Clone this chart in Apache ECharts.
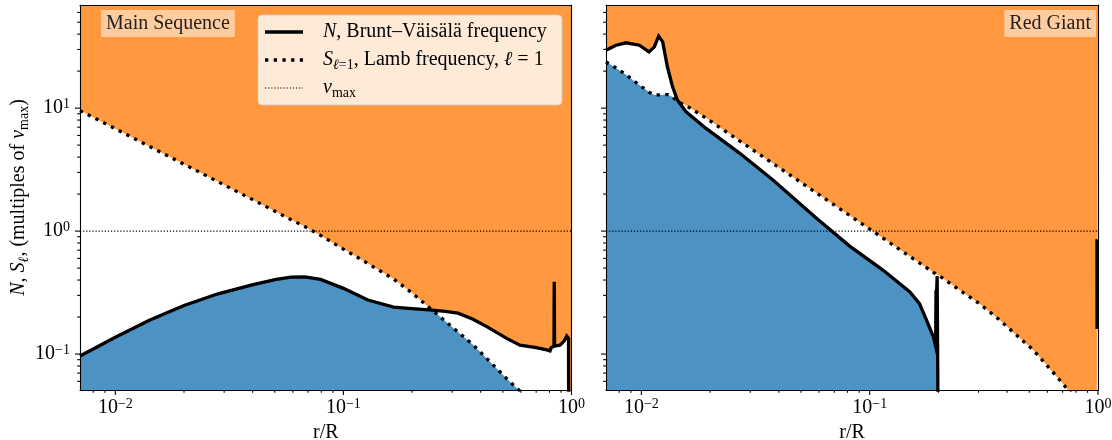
<!DOCTYPE html>
<html>
<head>
<meta charset="utf-8">
<script src="https://cdn.jsdelivr.net/npm/echarts@6/dist/echarts.min.js"></script>
<style>
  html, body { margin: 0; padding: 0; background: #fff; }
  #chart { width: 1112px; height: 440px; }
</style>
</head>
<body>
<div id="chart"></div>
<script>
// ---- Main-sequence model: radius (r/R), Brunt–Väisälä N and Lamb S(l=1), in units of nu_max
const msRadius = [0.007, 0.01, 0.0141, 0.02, 0.0282, 0.0398, 0.0501, 0.0589, 0.0676, 0.0794,
  0.1, 0.128, 0.166, 0.2, 0.245, 0.28, 0.318, 0.37, 0.425, 0.52,
  0.594, 0.70, 0.78, 0.805, 0.815, 0.838, 0.840, 0.843, 0.89, 0.93,
  0.953, 0.97, 0.976, 1.0];
const msN = [0.0964, 0.137, 0.188, 0.248, 0.309, 0.365, 0.403, 0.422, 0.425, 0.405,
  0.342, 0.275, 0.241, 0.234, 0.228, 0.222, 0.215, 0.192, 0.167, 0.134,
  0.118, 0.113, 0.108, 0.106, 0.113, 0.116, 0.387, 0.116, 0.118, 0.128,
  0.14, 0.134, 0.001, null];
const msS = [9.55, 6.79, 4.88, 3.50, 2.52, 1.81, 1.45, 1.24, 1.09, 0.922,
  0.714, 0.545, 0.408, 0.314, 0.228, 0.185, 0.151, 0.119, 0.092, 0.063,
  0.050, 0.036, 0.028, 0.026, 0.025, 0.023, 0.023, 0.0228, 0.019, 0.017,
  0.0155, 0.0148, 0.0145, 0.0135];

// ---- Red-giant model
const rgRadius = [0.007, 0.00774, 0.00857, 0.0098, 0.0108, 0.0114, 0.0119, 0.0124, 0.0130, 0.0137,
  0.0144, 0.0157, 0.0192, 0.0269, 0.0377, 0.0583, 0.0817, 0.1143, 0.1496, 0.165,
  0.1774, 0.19, 0.1945, 0.1952, 0.1958, 0.1966, 0.1975, 0.2012, 0.2015, 0.25,
  0.3, 0.37, 0.45, 0.52, 0.6, 0.66, 0.73, 0.8, 0.9, 0.989,
  0.9895, 0.9905, 0.991, 1.0];
const rgN = [29.6, 32.5, 34, 32.5, 28.7, 31.5, 38.5, 34.6, 21.7, 14.9,
  11.6, 9.33, 6.84, 4.31, 2.60, 1.28, 0.755, 0.482, 0.321, 0.258,
  0.189, 0.138, 0.115, 0.33, 0.118, 0.34, 0.43, 0.43, 0.001, null,
  null, null, null, null, null, null, null, null, null, null,
  0.86, 0.16, null, null];
const rgS = [23.8, 21.2, 18.7, 15.4, 13.5, 12.8, 12.8, 12.85, 12.9, 12.3,
  11.25, 10.5, 8.3, 5.42, 3.55, 2.05, 1.34, 0.877, 0.624, 0.552,
  0.504, 0.461, 0.448, 0.447, 0.446, 0.444, 0.442, 0.435, 0.434, 0.327,
  0.26, 0.19, 0.137, 0.108, 0.08, 0.0655, 0.0525, 0.043, 0.032, 0.0232,
  0.0231, 0.0229, 0.0228, 0.022];

// nu_max reference level
const nuMaxLevel = 1;

// Axis ranges and tick positions
const X_MIN = 0.007, X_MAX = 1;
const Y_MIN = 0.051, Y_MAX = 69;
const xMajorTicks = [0.01, 0.1, 1];
const yMajorTicks = [0.1, 1, 10];
const mantissas = [2, 3, 4, 5, 6, 7, 8, 9];
const decades = [0.001, 0.01, 0.1, 1, 10];

const SERIF = '"Liberation Serif", "DejaVu Serif", serif';
const FS = 20;
const ORANGE = '#ff983e';
const BLUE = '#4c92c3';
const FLOOR = 1e-3; // stands in for N far below the plotted range

function minorTicks(lo, hi) {
  const out = [];
  decades.forEach(d => mantissas.forEach(m => {
    const v = m * d;
    if (v > lo && v < hi) out.push(v);
  }));
  return out;
}
const xMinorTicks = minorTicks(X_MIN, X_MAX);
const yMinorTicks = minorTicks(Y_MIN, Y_MAX);

function curve(r, v) {
  return r.map((x, i) => [x, v[i] == null ? '-' : v[i]]);
}
function envelope(r, n, s, pick) {
  return r.map((x, i) => [x, pick(n[i] == null ? FLOOR : n[i], s[i])]);
}

function powLabel(v) {
  const e = Math.log10(v), k = Math.round(e);
  if (Math.abs(e - k) > 1e-6) return '';
  return '{b|10}{s|' + (k < 0 ? '\u2212' + (-k) : String(k)) + '}';
}
const tickRich = {
  b: { fontFamily: SERIF, fontSize: FS, color: '#000', lineHeight: 22 },
  s: { fontFamily: SERIF, fontSize: 14, color: '#000', lineHeight: 13, verticalAlign: 'top' }
};
const mathRich = {
  r: { fontFamily: SERIF, fontSize: FS, color: '#000', lineHeight: 24 },
  i: { fontFamily: SERIF, fontStyle: 'italic', fontSize: FS, color: '#000', lineHeight: 24 },
  sub: { fontFamily: SERIF, fontSize: 14, color: '#000', lineHeight: 14, verticalAlign: 'bottom' },
  subi: { fontFamily: SERIF, fontStyle: 'italic', fontSize: 14, color: '#000', lineHeight: 14, verticalAlign: 'bottom' }
};

function xAxis(grid, pos, labels) {
  return {
    type: 'log', logBase: 10, gridIndex: grid, position: pos,
    min: X_MIN, max: X_MAX, z: 10,
    axisLine: { show: true, onZero: false, lineStyle: { color: '#000', width: 1.1 } },
    axisTick: { show: false }, minorTick: { show: false }, splitLine: { show: false },
    axisLabel: { show: labels, formatter: powLabel, rich: tickRich, margin: 7, hideOverlap: false },
    name: labels ? 'r/R' : '', nameLocation: 'middle', nameGap: 30,
    nameTextStyle: { fontFamily: SERIF, fontSize: FS, color: '#000' }
  };
}
function yAxis(grid, pos, labels, name) {
  return {
    type: 'log', logBase: 10, gridIndex: grid, position: pos,
    min: Y_MIN, max: Y_MAX, z: 10,
    axisLine: { show: true, onZero: false, lineStyle: { color: '#000', width: 1.1 } },
    axisTick: { show: false }, minorTick: { show: false }, splitLine: { show: false },
    axisLabel: { show: labels, formatter: powLabel, rich: tickRich, margin: 10, hideOverlap: false },
    name: name || '', nameLocation: 'middle', nameGap: 44, nameRotate: 90,
    nameTextStyle: { rich: mathRich }
  };
}

function tickSeries(xi, yi, values, isX, len) {
  return {
    type: 'custom', xAxisIndex: xi, yAxisIndex: yi, silent: true, z: 20, clip: false,
    data: values.map(v => isX ? [v, Y_MIN] : [X_MIN, v]),
    renderItem: (params, api) => {
      const p = api.coord([api.value(0), api.value(1)]);
      return {
        type: 'line',
        shape: isX ? { x1: p[0], y1: p[1], x2: p[0], y2: p[1] + len }
                   : { x1: p[0], y1: p[1], x2: p[0] - len, y2: p[1] },
        style: { stroke: '#000', lineWidth: 1.1 }
      };
    }
  };
}

function panelSeries(idx, r, n, s) {
  const base = { xAxisIndex: idx, yAxisIndex: idx, showSymbol: false, symbol: 'none', silent: true, animation: false };
  return [
    Object.assign({}, base, {
      type: 'line', z: 1, data: envelope(r, n, s, Math.max),
      lineStyle: { width: 0 }, areaStyle: { color: ORANGE, opacity: 1, origin: 'end' }
    }),
    Object.assign({}, base, {
      type: 'line', z: 1, data: envelope(r, n, s, Math.min),
      lineStyle: { width: 0 }, areaStyle: { color: BLUE, opacity: 1, origin: 'start' }
    }),
    Object.assign({}, base, {
      type: 'line', z: 3, data: [[X_MIN, nuMaxLevel], [X_MAX, nuMaxLevel]],
      lineStyle: { color: '#000', width: 1.2, type: [1.2, 1.9] }
    }),
    Object.assign({}, base, {
      type: 'line', z: 4, data: curve(r, s),
      lineStyle: { color: '#000', width: 3.3, type: [3.3, 5.4] }
    }),
    Object.assign({}, base, {
      type: 'line', z: 5, data: curve(r, n), connectNulls: false,
      lineStyle: { color: '#000', width: 3.3, join: 'miter' }
    }),
    tickSeries(idx, idx, xMajorTicks, true, 5),
    tickSeries(idx, idx, xMinorTicks, true, 2.8),
    tickSeries(idx, idx, yMajorTicks, false, 5),
    tickSeries(idx, idx, yMinorTicks, false, 2.8)
  ];
}

const chart = echarts.init(document.getElementById('chart'), null, { renderer: 'canvas' });

const legendRows = [
  { y: 32, dash: null, width: 3.3, text: '{i|N}{r|, Brunt\u2013V\u00e4is\u00e4l\u00e4 frequency}' },
  { y: 60, dash: [3.3, 5.4], width: 3.3, text: '{i|S}{subi|\u2113}{sub|=1}{r|, Lamb frequency, }{i|\u2113}{r| = 1}' },
  { y: 88, dash: [1.2, 1.9], width: 1.2, text: '{i|\u03bd}{sub|max}' }
];

const graphic = [
  {
    type: 'text', x: 101, y: 10, z: 100,
    style: { text: 'Main Sequence', font: FS + 'px ' + SERIF, fill: '#222', lineHeight: 19,
      backgroundColor: 'rgba(255,255,255,0.5)', padding: [4, 5, 4, 5] }
  },
  {
    type: 'text', x: 1096, y: 10, z: 100,
    style: { text: 'Red Giant', font: FS + 'px ' + SERIF, fill: '#222', lineHeight: 19, align: 'right',
      backgroundColor: 'rgba(255,255,255,0.5)', padding: [4, 5, 4, 5] }
  },
  {
    type: 'rect', z: 100,
    shape: { x: 258, y: 15, width: 304, height: 90, r: 4 },
    style: { fill: 'rgba(255,255,255,0.8)', stroke: 'rgba(204,204,204,0.8)', lineWidth: 1 }
  }
];
legendRows.forEach(row => {
  graphic.push({
    type: 'line', z: 101,
    shape: { x1: 265, y1: row.y, x2: 303, y2: row.y },
    style: { stroke: '#000', lineWidth: row.width, lineDash: row.dash || null }
  });
  graphic.push({
    type: 'text', z: 101, x: 323, y: row.y,
    style: { text: row.text, rich: mathRich, verticalAlign: 'middle' }
  });
});

chart.setOption({
  animation: false,
  backgroundColor: '#fff',
  grid: [
    { left: 80, top: 5, width: 491.5, height: 385, outerBoundsMode: 'none', containLabel: false },
    { left: 606, top: 5, width: 492, height: 385, outerBoundsMode: 'none', containLabel: false }
  ],
  xAxis: [xAxis(0, 'bottom', true), xAxis(1, 'bottom', true), xAxis(0, 'top', false), xAxis(1, 'top', false)],
  yAxis: [
    yAxis(0, 'left', true, '{i|N}{r|, }{i|S}{subi|\u2113}{r|, (multiples of }{i|\u03bd}{sub|max}{r|)}'),
    yAxis(1, 'left', false),
    yAxis(0, 'right', false),
    yAxis(1, 'right', false)
  ],
  series: [].concat(
    panelSeries(0, msRadius, msN, msS),
    panelSeries(1, rgRadius, rgN, rgS)
  ),
  graphic: graphic
});
</script>
</body>
</html>
